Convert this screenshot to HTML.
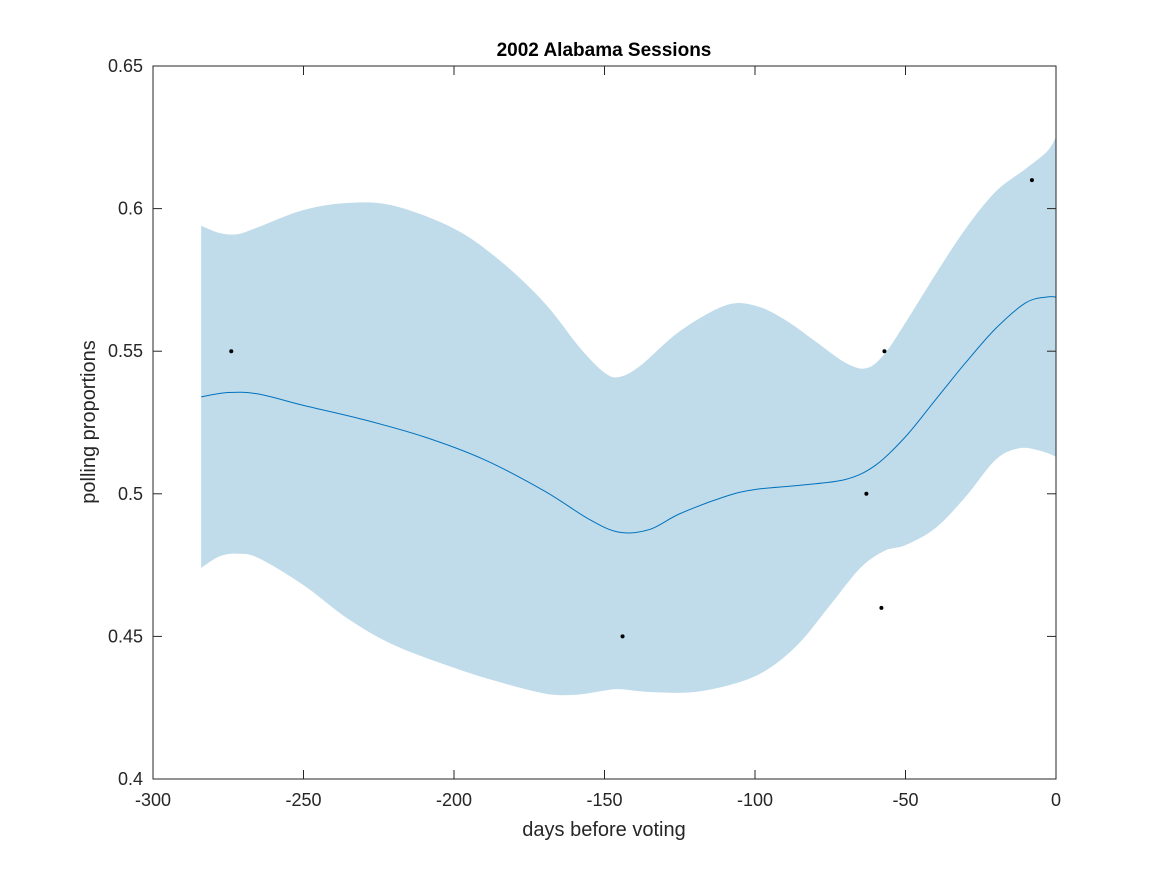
<!DOCTYPE html>
<html><head><meta charset="utf-8"><style>
body{margin:0;background:#fff;font-family:"Liberation Sans",sans-serif}
svg text{font-family:"Liberation Sans",sans-serif}
</style></head><body>
<svg id="chart" width="1167" height="875" viewBox="0 0 1167 875" xmlns="http://www.w3.org/2000/svg">
<rect width="1167" height="875" fill="#fff"/>
<g id="band"></g>
<g id="line"></g>
<g id="pts"></g>
<rect x="153" y="66" width="903" height="713" fill="none" stroke="#262626" stroke-width="1"/>
<g id="axes"></g>
<text x="604" y="56" text-anchor="middle" font-size="19" font-weight="bold" fill="#000">2002 Alabama Sessions</text>
<text x="604" y="836" text-anchor="middle" font-size="20" fill="#262626">days before voting</text>
<text transform="translate(95,422) rotate(-90)" text-anchor="middle" font-size="20" fill="#262626">polling proportions</text>
</svg>
<script>
const xTicks=[-300,-250,-200,-150,-100,-50,0];
const yTicks=[0.4,0.45,0.5,0.55,0.6,0.65];
const yTickLabels=["0.4","0.45","0.5","0.55","0.6","0.65"];
const meanDays=[-284,-275,-265,-250,-230,-210,-190,-170,-155,-145,-135,-125,-110,-100,-85,-70,-60,-50,-40,-30,-20,-10,-3,0];
const meanVals=[0.534,0.5355,0.535,0.531,0.526,0.52,0.512,0.501,0.491,0.4865,0.4875,0.493,0.499,0.5015,0.503,0.505,0.51,0.52,0.533,0.546,0.558,0.567,0.569,0.569];
const upDays=[-284,-278,-272,-265,-250,-235,-220,-200,-185,-170,-158,-150,-145,-138,-125,-110,-100,-90,-80,-70,-63,-57,-50,-40,-30,-20,-10,-3,0];
const upVals=[0.594,0.5915,0.591,0.5935,0.5995,0.602,0.601,0.593,0.582,0.567,0.551,0.5425,0.541,0.545,0.557,0.566,0.566,0.561,0.5535,0.546,0.544,0.549,0.56,0.577,0.593,0.606,0.614,0.62,0.625];
const loDays=[-284,-278,-272,-265,-250,-235,-220,-200,-185,-170,-160,-150,-145,-135,-120,-105,-95,-85,-75,-65,-57,-50,-40,-30,-20,-12,-5,0];
const loVals=[0.474,0.478,0.479,0.4775,0.468,0.456,0.447,0.439,0.434,0.43,0.4295,0.431,0.4315,0.4305,0.4305,0.434,0.439,0.448,0.461,0.474,0.48,0.482,0.488,0.499,0.512,0.516,0.515,0.513];
const ptDays=[-274,-144,-63,-57,-58,-8];
const ptVals=[0.55,0.45,0.5,0.55,0.46,0.61];
const NS="http://www.w3.org/2000/svg";
const X=d=>153+(d+300)*(903/300);
const Y=v=>779-(v-0.4)*(713/0.25);
function mk(tag,attrs,parent){const e=document.createElementNS(NS,tag);for(const k in attrs)e.setAttribute(k,attrs[k]);parent.appendChild(e);return e;}
function smooth(p,start){let s=start?("M"+p[0][0]+","+p[0][1]):("L"+p[0][0]+","+p[0][1]);
for(let i=0;i<p.length-1;i++){const p0=p[Math.max(0,i-1)],p1=p[i],p2=p[i+1],p3=p[Math.min(p.length-1,i+2)];
const c1=[p1[0]+(p2[0]-p0[0])/6,p1[1]+(p2[1]-p0[1])/6],c2=[p2[0]-(p3[0]-p1[0])/6,p2[1]-(p3[1]-p1[1])/6];
s+=" C"+c1[0]+","+c1[1]+" "+c2[0]+","+c2[1]+" "+p2[0]+","+p2[1];}return s;}
const up=upDays.map((t,i)=>[X(t),Y(upVals[i])]);
const lo=loDays.map((t,i)=>[X(t),Y(loVals[i])]).reverse();
const band=mk("path",{d:smooth(up,true)+" "+smooth(lo,false)+"Z",fill:"#c0dcea",stroke:"none"},document.getElementById("band"));


const ln=mk("path",{d:smooth(meanDays.map((t,i)=>[X(t),Y(meanVals[i])]),true),fill:"none",stroke:"#0072bd","stroke-width":1},document.getElementById("line"));


ptDays.forEach((t,i)=>{const c=mk("circle",{cx:X(t),cy:Y(ptVals[i]),r:2,fill:"#000"},document.getElementById("pts"));

});
const ax=document.getElementById("axes");
xTicks.forEach(t=>{const x=X(t);
mk("line",{x1:x,x2:x,y1:779,y2:770,stroke:"#262626"},ax);mk("line",{x1:x,x2:x,y1:66,y2:75,stroke:"#262626"},ax);
const tx=mk("text",{x:x,y:806,"text-anchor":"middle","font-size":18,fill:"#262626"},ax);tx.textContent=String(t);

});
yTicks.forEach((v,i)=>{const y=Y(v);
mk("line",{x1:153,x2:162,y1:y,y2:y,stroke:"#262626"},ax);mk("line",{x1:1056,x2:1047,y1:y,y2:y,stroke:"#262626"},ax);
const tx=mk("text",{x:143,y:y+6,"text-anchor":"end","font-size":18,fill:"#262626"},ax);tx.textContent=yTickLabels[i];

});
</script>
</body></html>
